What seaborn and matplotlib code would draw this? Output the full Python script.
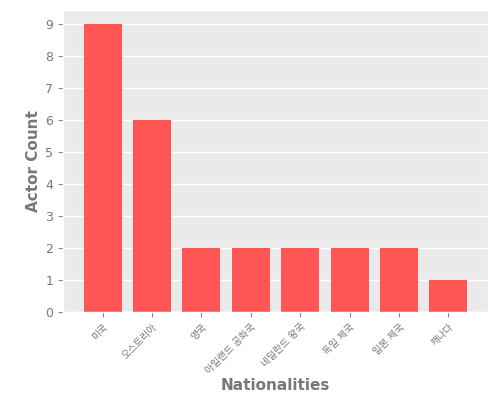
import matplotlib
matplotlib.use('Agg')
import matplotlib.pyplot as plt
import seaborn as sns
import pandas as pd

nationalities = ['미국', '오스트리아', '영국', '아일랜드 공화국', '네덜란드 왕국', '독일 제국', '일본 제국', '캐나다']
actor_counts = [9, 6, 2, 2, 2, 2, 2, 1]

df = pd.DataFrame({'Nationalities': nationalities, 'Actor Count': actor_counts})

plt.style.use('ggplot')
plt.rcParams['font.family'] = ['DejaVu Sans', 'Noto Sans CJK KR']
plt.rcParams['axes.facecolor'] = '#EAEAEA'

fig, ax = plt.subplots(figsize=(5, 4), dpi=100)
fig.subplots_adjust(left=0.126, right=0.976, top=0.975, bottom=0.22)

sns.barplot(data=df, x='Nationalities', y='Actor Count', color='#FF5555',
            saturation=1, width=0.77, ax=ax)

ax.set_xlim(-0.8, len(nationalities) - 0.2)
ax.set_ylim(0, max(actor_counts) * 1.05)
ax.set_yticks(range(0, 10))
ax.grid(axis='x', visible=False)
ax.grid(axis='y', color='white', linewidth=1)

ax.tick_params(colors='#888888', labelcolor='#777777')
ax.tick_params(axis='y', labelsize=9)
ax.tick_params(axis='x', labelsize=7)
plt.setp(ax.get_xticklabels(), rotation=45, ha='right', rotation_mode='anchor')
ax.set_xlabel('Nationalities', color='#777777', fontsize=11, fontweight='bold')
ax.set_ylabel('Actor Count', color='#777777', fontsize=11, fontweight='bold')
ax.xaxis.set_label_coords(0.5, -0.245)
ax.xaxis.label.set_va('center')
ax.yaxis.set_label_coords(-0.07, 0.5)
ax.yaxis.label.set_va('center')

plt.savefig('out.png', dpi=100)
